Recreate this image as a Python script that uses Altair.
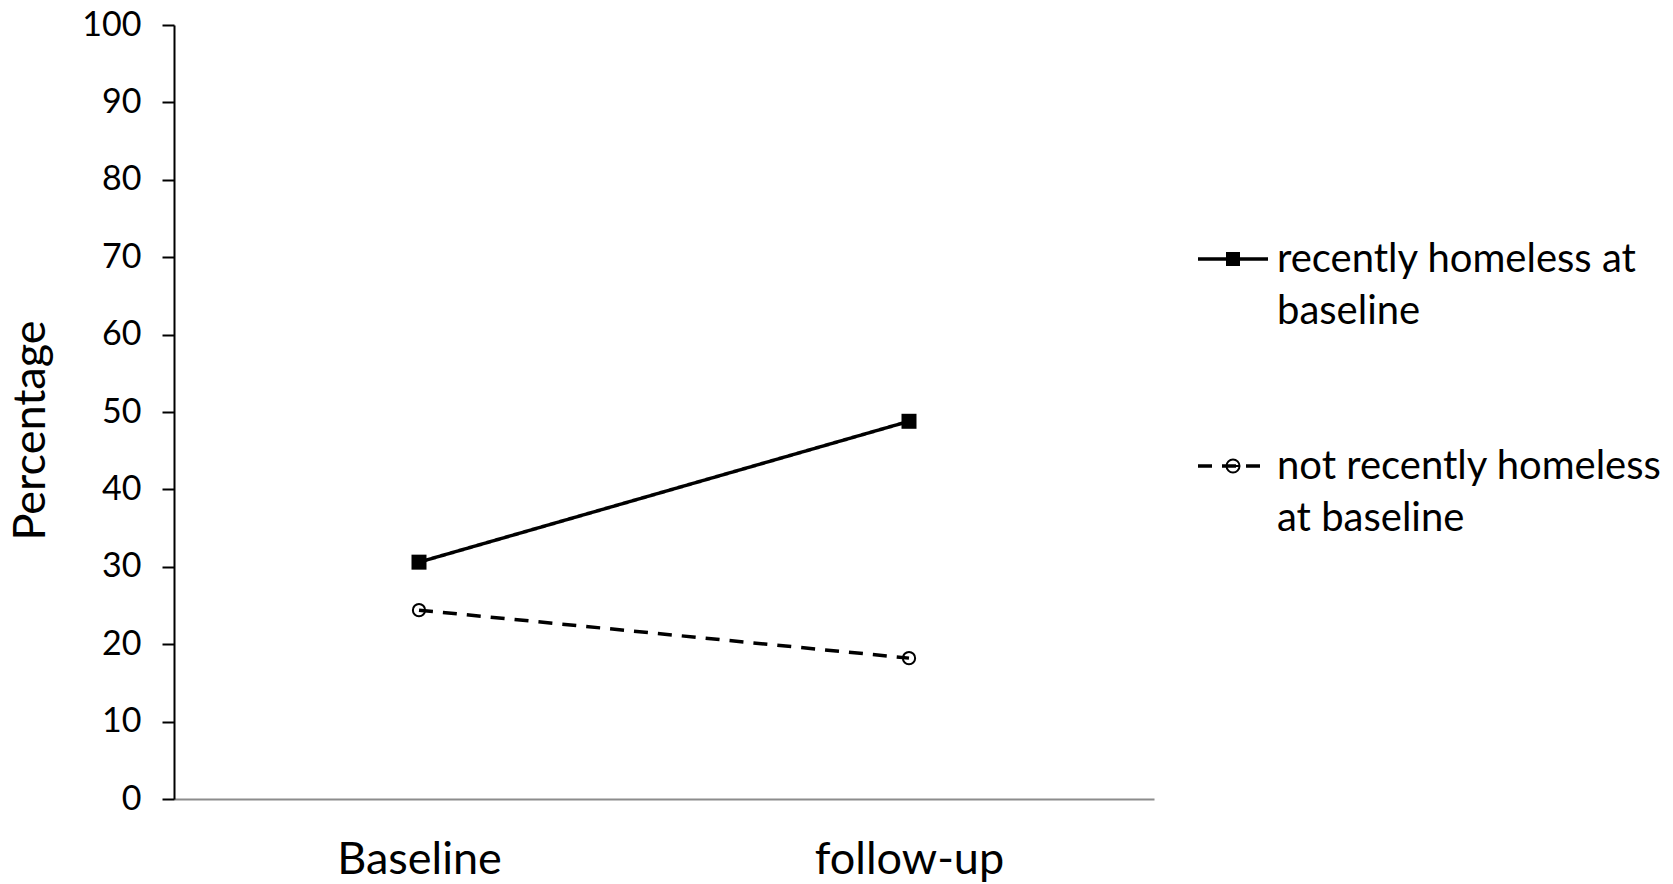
import altair as alt
import pandas as pd

# Data
timepoints = ["Baseline", "follow-up"]
series_names = ["recently homeless at baseline", "not recently homeless at baseline"]
recently_homeless = [30.6, 48.8]
not_recently_homeless = [24.4, 18.2]
legend_text = ["recently homeless at\nbaseline", "not recently homeless\nat baseline"]
y_ticks = list(range(0, 101, 10))

FONT = "Lato"

rows = []
for t, a, b in zip(timepoints, recently_homeless, not_recently_homeless):
    rows.append({"time": t, "series": series_names[0], "pct": a})
    rows.append({"time": t, "series": series_names[1], "pct": b})
df = pd.DataFrame(rows)

x_enc = alt.X(
    "time:N",
    sort=timepoints,
    scale=alt.Scale(type="point", domain=timepoints, padding=0.5),
    axis=alt.Axis(
        title=None, labelAngle=0, ticks=False, tickSize=0,
        domainColor="#8c8c8c", domainWidth=2,
        labelFont=FONT, labelFontSize=45, labelColor="black", labelPadding=38,
        labelLimit=0,
    ),
)
y_enc = alt.Y(
    "pct:Q",
    scale=alt.Scale(domain=[0, 100], nice=False),
    axis=alt.Axis(
        values=y_ticks, grid=False,
        domainColor="black", domainWidth=2,
        tickColor="black", tickWidth=2, tickSize=12,
        labelFont=FONT, labelFontSize=34, labelColor="black", labelPadding=21,
        title="Percentage", titleFont=FONT, titleFontSize=45, titleFontWeight="normal",
        titleColor="black", titleAngle=270, titleAlign="center", titleBaseline="bottom",
        titleX=-121, titleY=405,
    ),
)

dash_scale = alt.Scale(domain=series_names, range=[[1, 0], [14, 10]])

base = alt.Chart(df)
lines = base.mark_line(color="black", strokeWidth=3.5).encode(
    x=x_enc, y=y_enc, detail="series:N",
    strokeDash=alt.StrokeDash("series:N", scale=dash_scale, legend=None),
)
squares = base.transform_filter(alt.datum.series == series_names[0]).mark_point(
    shape="square", filled=True, color="black", size=225, opacity=1
).encode(x=x_enc, y=y_enc)
circles = base.transform_filter(alt.datum.series == series_names[1]).mark_point(
    shape="circle", filled=False, color="black", size=150, strokeWidth=2, opacity=1
).encode(x=x_enc, y=y_enc)

main = alt.layer(lines, squares, circles).properties(width=980, height=774)

# Legend panel
leg_df = pd.DataFrame({"series": series_names, "label": legend_text})
leg_y = alt.Y("series:N", scale=alt.Scale(type="point", domain=series_names, range=[234, 441], padding=0), axis=None)
leg_base = alt.Chart(leg_df)
leg_lines = leg_base.mark_rule(color="black", strokeWidth=3.5).encode(
    x=alt.value(0), x2=alt.value(70), y=leg_y,
    strokeDash=alt.StrokeDash("series:N", scale=alt.Scale(domain=series_names, range=[[1, 0], [13, 43]]), legend=None),
)
leg_square = leg_base.transform_filter(alt.datum.series == series_names[0]).mark_point(
    shape="square", filled=True, color="black", size=196, opacity=1
).encode(x=alt.value(35), y=leg_y)
leg_circle = leg_base.transform_filter(alt.datum.series == series_names[1]).mark_point(
    shape="M-1,0A1,1,0,1,0,1,0A1,1,0,1,0,-1,0ZM-1,0L1,0", filled=False, color="black",
    size=169, strokeWidth=2, opacity=1
).encode(x=alt.value(35), y=leg_y)
leg_text = leg_base.mark_text(
    align="left", baseline="alphabetic", dy=13, font=FONT, fontSize=40,
    lineBreak="\n", lineHeight=52, color="black"
).encode(x=alt.value(79), y=leg_y, text="label:N")

legend = alt.layer(leg_lines, leg_square, leg_circle, leg_text).properties(width=470, height=774)

chart = alt.hconcat(main, legend, spacing=42).properties(
    padding={"left": 8, "top": 8, "right": 0, "bottom": 0},
    background="white",
).configure_view(stroke=None)

chart.save("out.html", embed_options={"renderer": "svg", "actions": False})
